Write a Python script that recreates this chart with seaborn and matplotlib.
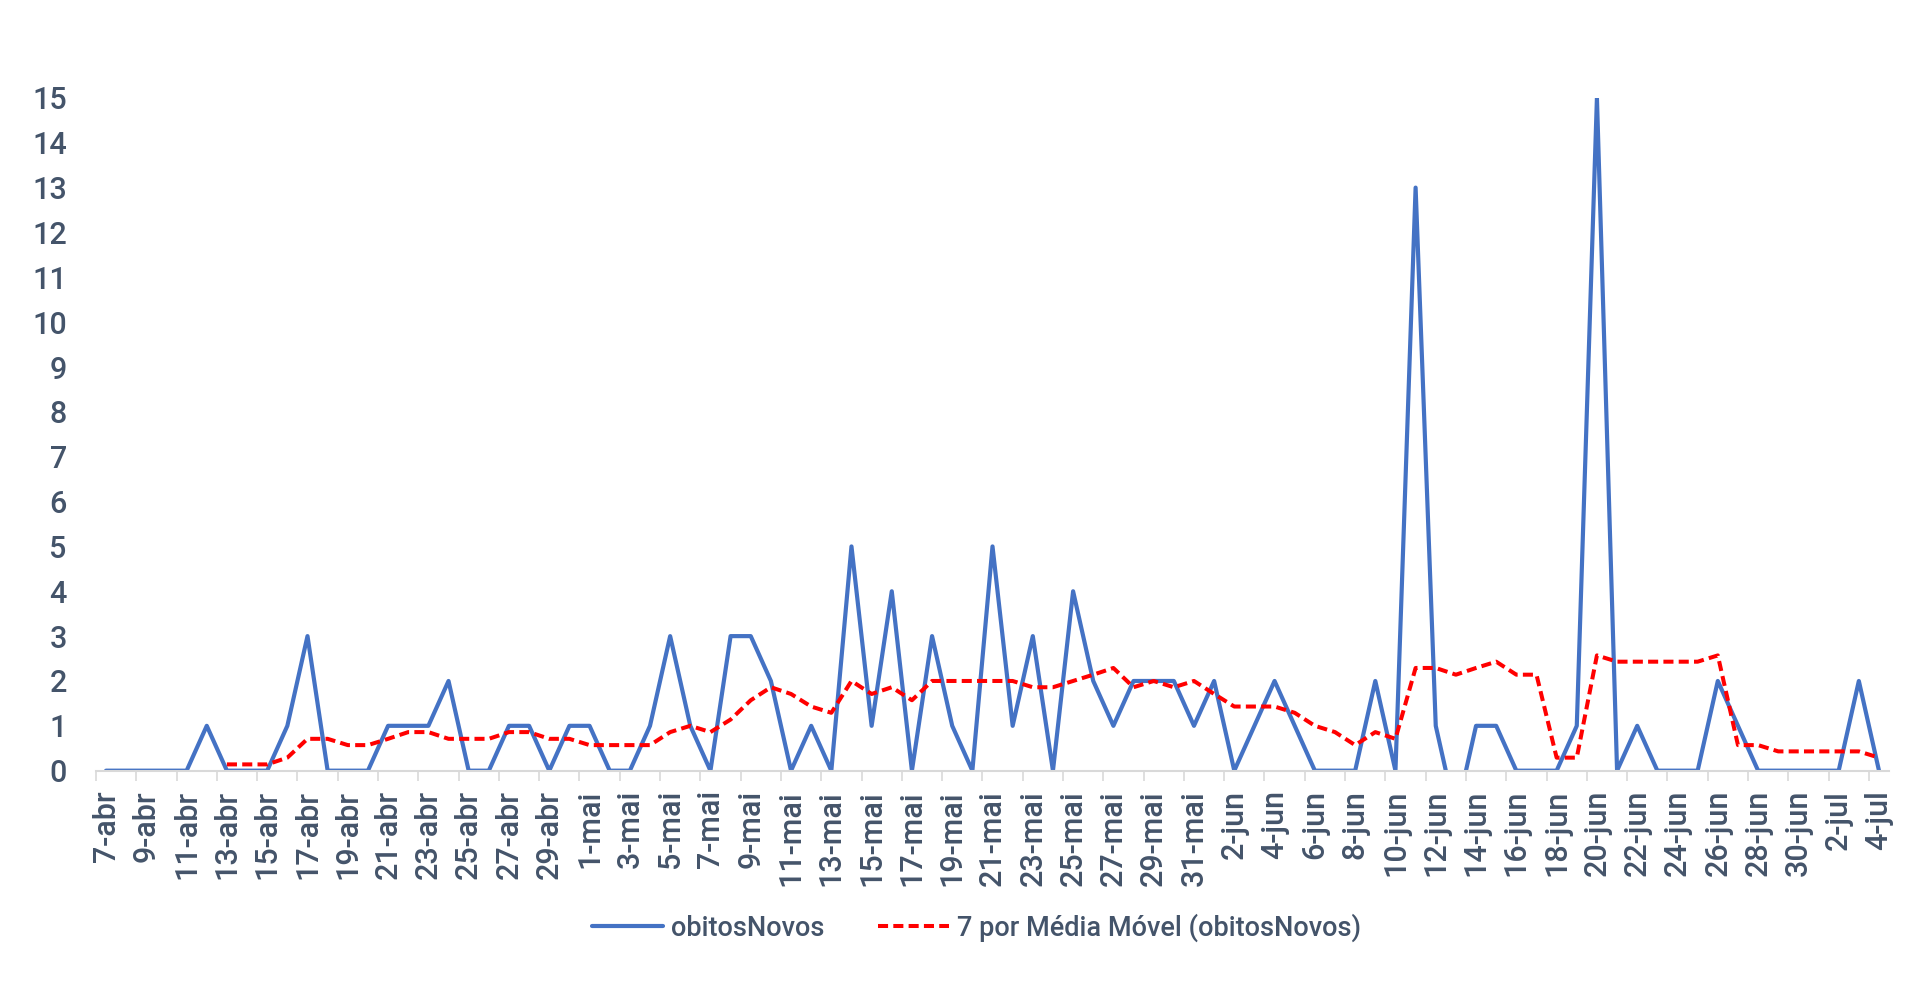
import matplotlib
matplotlib.use("Agg")
import matplotlib.pyplot as plt
import seaborn as sns
import pandas as pd

# obitos novos por dia, de 7-abr a 4-jul
obitos_novos = [0, 0, 0, 0, 0, 1, 0, 0, 0, 1, 3, 0, 0, 0, 1, 1, 1, 2, 0, 0,
                1, 1, 0, 1, 1, 0, 0, 1, 3, 1, 0, 3, 3, 2, 0, 1, 0, 5, 1, 4,
                0, 3, 1, 0, 5, 1, 3, 0, 4, 2, 1, 2, 2, 2, 1, 2, 0, 1, 2, 1,
                0, 0, 0, 2, 0, 13, 1, -1, 1, 1, 0, 0, 0, 1, 15, 0, 1, 0, 0, 0,
                2, 1, 0, 0, 0, 0, 0, 2, 0]

# media movel de 7 dias (comeca em 13-abr)
media_movel = [0.14, 0.14, 0.14, 0.29, 0.71, 0.71, 0.57, 0.57, 0.71, 0.86,
               0.86, 0.71, 0.71, 0.71, 0.86, 0.86, 0.71, 0.71, 0.57, 0.57,
               0.57, 0.57, 0.86, 1.00, 0.86, 1.14, 1.57, 1.86, 1.71, 1.43,
               1.29, 2.00, 1.71, 1.86, 1.57, 2.00, 2.00, 2.00, 2.00, 2.00,
               1.86, 1.86, 2.00, 2.14, 2.29, 1.86, 2.00, 1.86, 2.00, 1.71,
               1.43, 1.43, 1.43, 1.29, 1.00, 0.86, 0.57, 0.86, 0.71, 2.29,
               2.29, 2.14, 2.29, 2.43, 2.14, 2.14, 0.29, 0.29, 2.57, 2.43,
               2.43, 2.43, 2.43, 2.43, 2.57, 0.57, 0.57, 0.43, 0.43, 0.43,
               0.43, 0.43, 0.29]

meses = {4: "abr", 5: "mai", 6: "jun", 7: "jul"}
datas = pd.date_range("2020-04-07", "2020-07-04", freq="D")
rotulos = [f"{d.day}-{meses[d.month]}" for d in datas]

df = pd.DataFrame({"dia": range(len(obitos_novos)), "obitosNovos": obitos_novos})
df_mm = pd.DataFrame({"dia": range(6, 6 + len(media_movel)), "media": media_movel})

cor_texto = "#44546A"
cor_eixo = "#D9D9D9"

sns.set_style("white")
plt.rcParams["font.family"] = ["Roboto", "DejaVu Sans"]
plt.rcParams["font.weight"] = "medium"

fig = plt.figure(figsize=(19.19, 9.83), dpi=100)
ax = fig.add_axes([0.05, 0.216, 0.9344, 0.6844])

sns.lineplot(data=df, x="dia", y="obitosNovos", ax=ax, color="#4472C4",
             linewidth=3.0, label="obitosNovos")
sns.lineplot(data=df_mm, x="dia", y="media", ax=ax, color="#FF0000",
             linewidth=2.9, dashes=False, label="7 por Média Móvel (obitosNovos)")
ax.lines[1].set_dashes([2.5, 1.3])

ax.set_xlim(-0.5, len(obitos_novos) - 0.5)
ax.set_ylim(0, 15)
ax.set_yticks(range(0, 16))
ax.set_xticks(range(0, len(rotulos), 2))
ax.set_xticklabels(rotulos[::2], rotation=90, va="top", ha="center")
ax.set_xticks([x - 0.5 for x in range(0, len(rotulos), 2)], minor=True)

ax.tick_params(axis="x", which="major", length=0, pad=14, labelsize=22, labelcolor=cor_texto)
ax.tick_params(axis="x", which="minor", length=7.2, width=1.2, color=cor_eixo, direction="out")
ax.tick_params(axis="y", length=0, pad=21, labelsize=22, labelcolor=cor_texto)

for s in ["top", "right", "left"]:
    ax.spines[s].set_visible(False)
ax.spines["bottom"].set_color(cor_eixo)
ax.spines["bottom"].set_linewidth(1.5)
ax.xaxis.set_ticks_position("bottom")

ax.set_xlabel("")
ax.set_ylabel("")

ax.get_legend().remove()
handles, labels = ax.get_legend_handles_labels()
leg = fig.legend(handles, labels, loc="center", bbox_to_anchor=(0.509, 0.056),
                 ncol=2, frameon=False, fontsize=19.5, handlelength=2.6,
                 handletextpad=0.3, columnspacing=2.0)
for t in leg.get_texts():
    t.set_color(cor_texto)

plt.savefig("out.png", dpi=100)
plt.close()
